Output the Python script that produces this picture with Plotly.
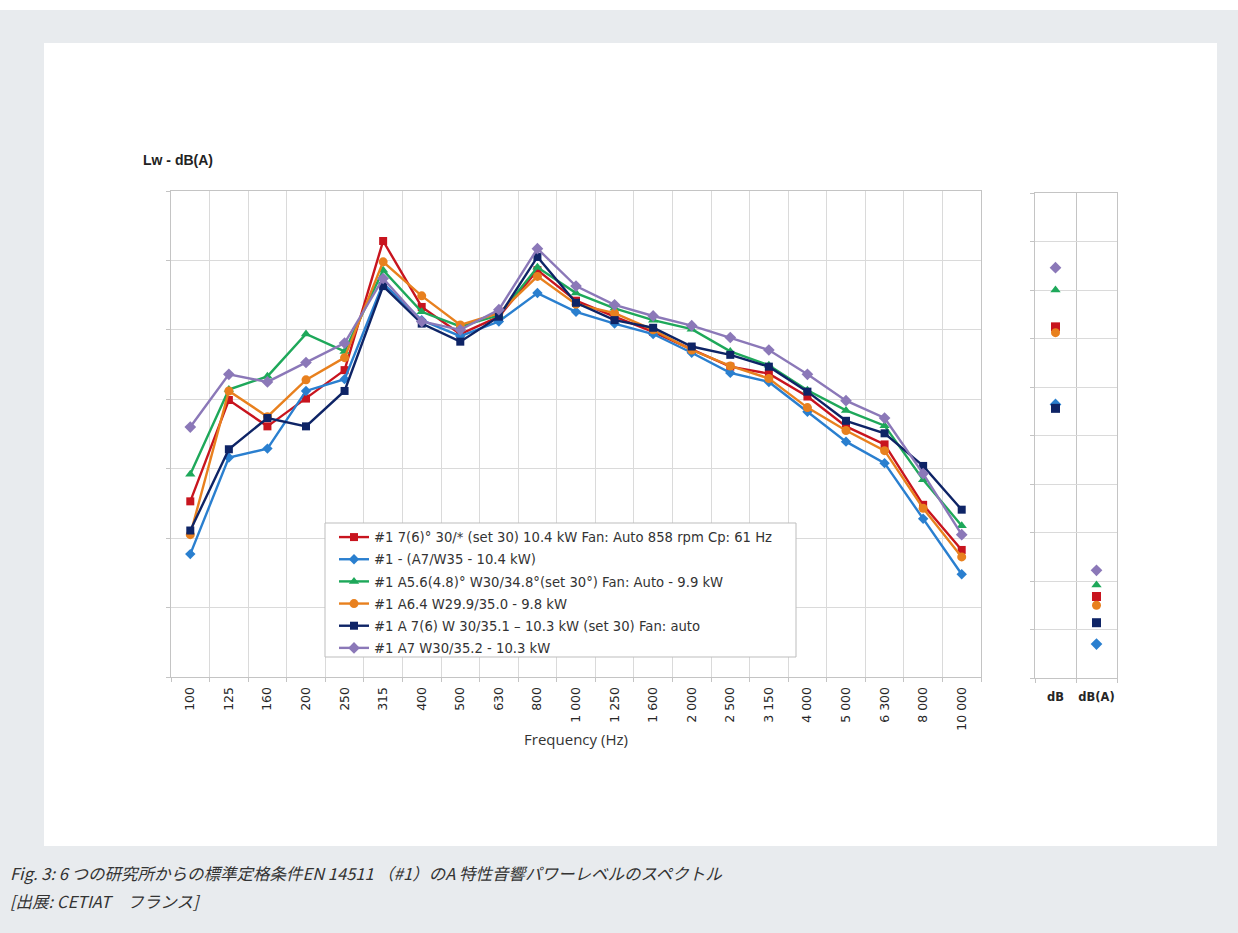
import plotly.graph_objects as go

# Third-octave band centre frequencies (Hz)
bands = ["100", "125", "160", "200", "250", "315", "400", "500", "630", "800",
         "1 000", "1 250", "1 600", "2 000", "2 500", "3 150", "4 000", "5 000",
         "6 300", "8 000", "10 000"]

series_names = [
    "#1 7(6)° 30/* (set 30) 10.4 kW Fan: Auto 858 rpm Cp: 61 Hz",
    "#1 - (A7/W35 - 10.4 kW)",
    "#1 A5.6(4.8)° W30/34.8°(set 30°) Fan: Auto - 9.9 kW",
    "#1 A6.4 W29.9/35.0 - 9.8 kW",
    "#1 A 7(6) W 30/35.1 – 10.3 kW (set 30) Fan: auto",
    "#1 A7 W30/35.2 - 10.3 kW",
]

# Sound power level per band, dB(A)
lw_red = [35.3, 49.9, 46.1, 50.1, 54.2, 72.8, 63.3, 59.4, 61.9, 68.6, 64.2,
          61.9, 59.7, 57.2, 54.7, 53.7, 50.4, 46.1, 43.5, 34.8, 28.3]
lw_blue = [27.7, 41.6, 42.9, 51.2, 52.9, 66.7, 61.4, 59.1, 61.2, 65.3, 62.6,
           60.9, 59.4, 56.7, 53.8, 52.5, 48.2, 43.9, 40.8, 32.8, 24.8]
lw_green = [39.2, 51.4, 53.3, 59.4, 56.9, 68.6, 62.6, 60.5, 62.1, 69.0, 65.3,
            63.1, 61.4, 60.1, 56.9, 54.9, 51.3, 48.4, 46.2, 38.4, 31.8]
lw_orange = [30.5, 51.2, 47.5, 52.8, 56.0, 69.8, 64.9, 60.7, 62.4, 67.7, 63.7,
             62.4, 60.0, 57.1, 54.8, 53.0, 48.8, 45.5, 42.6, 34.3, 27.3]
lw_navy = [31.1, 42.8, 47.3, 46.1, 51.2, 66.3, 60.9, 58.3, 61.9, 70.5, 63.9,
           61.4, 60.3, 57.6, 56.4, 54.7, 51.1, 46.9, 45.1, 40.4, 34.1]
lw_purple = [46.0, 53.6, 52.5, 55.3, 58.1, 67.4, 61.2, 60.0, 62.9, 71.7, 66.3,
             63.6, 62.0, 60.6, 58.9, 57.1, 53.6, 49.8, 47.3, 39.3, 30.5]

# Overall levels (summary panel)
summary_cats = ["dB", "dB(A)"]
total_db = [76.2, 68.2, 80.0, 75.6, 67.8, 82.3]
total_dba = [48.4, 43.5, 49.6, 47.5, 45.7, 51.1]

colors = ["#c8141e", "#2a7fcf", "#1ea85a", "#e8801e", "#0e2466", "#8b78b8"]
symbols = ["square", "diamond", "triangle-up", "circle", "square", "diamond"]
sizes = [8, 8, 9, 9, 8, 9]
levels = [lw_red, lw_blue, lw_green, lw_orange, lw_navy, lw_purple]

W, H = 1238, 933
BASE_FONT = "DejaVu Sans"


def px(x):
    return x / W


def py(y):
    return 1 - y / H


fig = go.Figure()

for k, (name, vals, col, sym, sz) in enumerate(zip(series_names, levels, colors, symbols, sizes)):
    fig.add_trace(go.Scatter(
        x=bands, y=vals, name=name, mode="lines+markers",
        line=dict(color=col, width=2.4),
        marker=dict(symbol=sym, size=sz, color=col),
        legendgroup=f"s{k}",
        xaxis="x", yaxis="y",
    ))

for i, (col, sym) in enumerate(zip(colors, symbols)):
    fig.add_trace(go.Scatter(
        x=summary_cats, y=[total_db[i], total_dba[i]], mode="markers",
        marker=dict(symbol=sym, size=9, color=col),
        showlegend=False, xaxis="x2", yaxis="y2",
    ))

grid = "#dadada"
frame = "#c4c4c4"

fig.update_layout(
    width=W, height=H, autosize=False,
    margin=dict(l=0, r=0, t=0, b=0),
    paper_bgcolor="#e8ebee",
    plot_bgcolor="white",
    font=dict(family=BASE_FONT, color="#333333"),
    xaxis=dict(
        domain=[px(171), px(981)], anchor="y", type="category",
        range=[-0.5, len(bands) - 0.5],
        tickson="boundaries", showgrid=True, gridcolor=grid, gridwidth=1,
        showline=True, linecolor=frame, mirror=True,
        ticks="outside", ticklen=4, tickcolor=frame, ticklabelstandoff=4,
        tickangle=-90, tickfont=dict(family=BASE_FONT, size=12.5, color="#262626"),
        title=dict(text="Frequency (Hz)", font=dict(family="Open Sans", size=15, color="#333333"),
                   standoff=4),
        fixedrange=True,
    ),
    yaxis=dict(
        domain=[py(677), py(191)], anchor="x",
        range=[10, 80], dtick=10, showticklabels=False,
        showgrid=True, gridcolor=grid, gridwidth=1, zeroline=False,
        showline=True, linecolor=frame, mirror=True,
        ticks="outside", ticklen=4, tickcolor=frame,
        fixedrange=True,
    ),
    xaxis2=dict(
        domain=[px(1035), px(1117)], anchor="y2", type="category",
        range=[-0.5, 1.5],
        tickson="boundaries", showgrid=True, gridcolor=frame, gridwidth=1,
        showline=True, linecolor=frame, mirror=True,
        ticks="outside", ticklen=4, tickcolor=frame, tickangle=0, ticklabelstandoff=8,
        tickfont=dict(family=BASE_FONT, size=11.5, color="#262626", weight="bold"),
        fixedrange=True,
    ),
    yaxis2=dict(
        domain=[py(678), py(193)], anchor="x2",
        range=[40, 90], dtick=5, showticklabels=False,
        showgrid=True, gridcolor=grid, gridwidth=1, zeroline=False,
        showline=True, linecolor=frame, mirror=True,
        ticks="outside", ticklen=4, tickcolor=frame,
        fixedrange=True,
    ),
    legend=dict(
        x=px(334), y=py(522), xanchor="left", yanchor="top",
        bgcolor="rgba(0,0,0,0)", borderwidth=0,
        font=dict(family=BASE_FONT, size=13.2, color="#333333"),
        traceorder="grouped", tracegroupgap=2, itemwidth=30,
    ),
    showlegend=True,
)

# White card behind the chart, thin white strip along the top edge
fig.add_shape(type="rect", xref="paper", yref="paper",
              x0=0, x1=1, y0=py(10), y1=1, fillcolor="white", line=dict(width=0), layer="below")
fig.add_shape(type="rect", xref="paper", yref="paper",
              x0=px(44), x1=px(1217), y0=py(846), y1=py(43),
              fillcolor="white", line=dict(width=0), layer="below")
# Legend frame
fig.add_shape(type="rect", xref="paper", yref="paper",
              x0=px(325), x1=px(796), y0=py(657), y1=py(523),
              fillcolor="white", line=dict(color="#bdbdbd", width=1), layer="above")

fig.add_annotation(text="<b>Lw - dB(A)</b>", xref="paper", yref="paper",
                   x=px(141), y=py(160), xanchor="left", yanchor="middle", showarrow=False,
                   font=dict(family="Liberation Sans", size=14, color="#222222"))

cap_font = dict(family="Noto Sans CJK JP", size=16.5, color="#333333")
fig.add_annotation(text="<i>Fig. 3: 6 つの研究所からの標準定格条件EN 14511 （#1）のA 特性音響パワーレベルのスペクトル</i>",
                   xref="paper", yref="paper", x=px(8), y=py(873), xanchor="left", yanchor="middle",
                   showarrow=False, font=cap_font)
fig.add_annotation(text="<i>[出展: CETIAT　フランス]</i>",
                   xref="paper", yref="paper", x=px(8), y=py(901), xanchor="left", yanchor="middle",
                   showarrow=False, font=cap_font)

fig.write_html(
    "out.html",
    config={"responsive": False},
    post_script="document.body.style.margin='0';document.body.style.overflow='hidden';",
)
